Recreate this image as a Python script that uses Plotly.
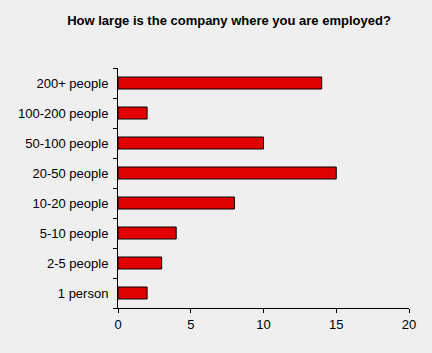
import plotly.graph_objects as go

categories = ["1 person", "2-5 people", "5-10 people", "10-20 people",
              "20-50 people", "50-100 people", "100-200 people", "200+ people"]
counts = [2, 3, 4, 8, 15, 10, 2, 14]
x_ticks = [0, 5, 10, 15, 20]

BG = "#efefef"
fig = go.Figure(go.Bar(
    y=categories, x=counts, orientation="h", width=0.4,
    marker=dict(color="#e00000", line=dict(color="#000000", width=1)),
))
fig.update_layout(
    width=432, height=353, paper_bgcolor=BG, plot_bgcolor=BG,
    margin=dict(l=118, r=23, t=68, b=45),
    font=dict(family="Liberation Sans, Arial, sans-serif", size=13, color="#000"),
    title=dict(text="<b>How large is the company where you are employed?</b>",
               x=229/432, xanchor="center", xref="container", y=1-20/353, yanchor="middle",
               font=dict(size=13, color="#000")),
    showlegend=False,
)
fig.update_xaxes(range=[0, 20], tickvals=x_ticks, showgrid=False, zeroline=False,
                 showline=True, linecolor="#000", linewidth=1,
                 ticks="outside", ticklen=4, tickcolor="#000", fixedrange=True)
fig.update_yaxes(type="category", categoryorder="array", categoryarray=categories,
                 showgrid=False, zeroline=False, showline=True, linecolor="#000", linewidth=1,
                 ticks="outside", ticklen=4, tickcolor="#000", tickson="boundaries",
                 ticklabelstandoff=6, fixedrange=True)
fig.write_html("out.html")
